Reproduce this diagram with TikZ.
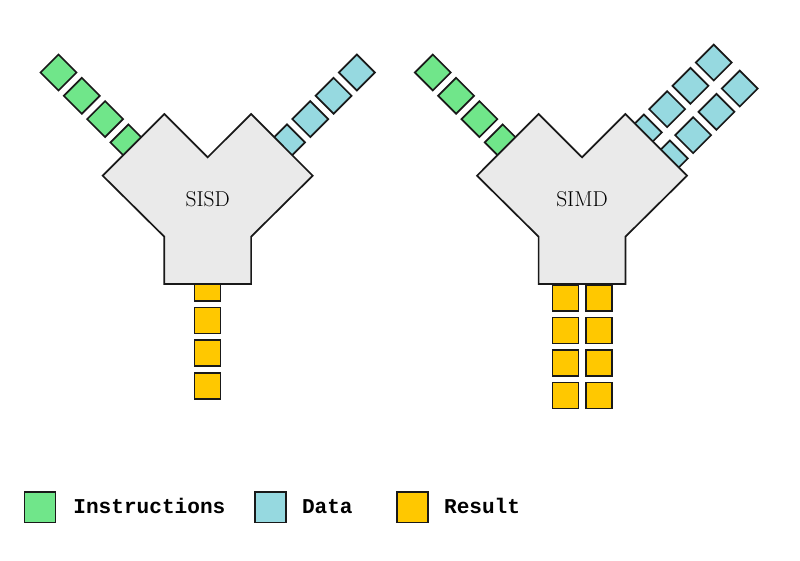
\documentclass[tikz,border=0pt]{standalone}
\usepackage{fontspec}
\newfontfamily\monob{Liberation Mono}
\definecolor{instr}{HTML}{70E68A}
\definecolor{datac}{HTML}{96D9E0}
\definecolor{resc}{HTML}{FFC800}
\definecolor{procc}{HTML}{EAEAEA}
\begin{document}
\begin{tikzpicture}[x=1pt,y=-1pt,
  sqbase/.style={draw=black!90, line width=1.7pt, rectangle, inner sep=0pt, minimum size=25.4pt},
  dsq/.style={sqbase, rotate=45},
  isq/.style={dsq, fill=instr},
  dsqb/.style={dsq, fill=datac},
  rsq/.style={sqbase, fill=resc, minimum size=26pt},
  proc/.style={draw=black!90, line width=1.7pt, fill=procc, line join=miter},
  lbl/.style={font=\fontsize{21.5}{26}\selectfont, anchor=base, inner sep=0pt},
  legtxt/.style={font=\monob\bfseries\fontsize{21.1}{25}\selectfont, anchor=base west, inner sep=0pt},
  legsq/.style={sqbase, minimum width=31pt, minimum height=30.6pt}]
\useasboundingbox (0,0) rectangle (800,560);
\fill[white] (0,0) rectangle (800,560);
% instruction squares
\foreach \cx/\nm in {207.7/sisd, 582/simd} {
  \foreach \k in {0,1,2,3} {
    \node[isq] (\nm I\k) at ({\cx-149.2+23.3*\k},{72.5+23.3*\k}) {};
  }
}
% data squares
\foreach \k in {0,1,2,3} {
  \node[dsqb] (sisdD\k) at ({207.7+149.2-23.3*\k},{72.5+23.3*\k}) {};
  \node[dsqb] (simdDa\k) at ({582+131.75-23.3*\k},{62.55+23.3*\k}) {};
  \node[dsqb] (simdDb\k) at ({582+157.75-23.3*\k},{88.55+23.3*\k}) {};
}
% result squares
\foreach \k in {0,1,2,3} {
  \node[rsq] (sisdR\k) at (207.5,{287.9+32.7*\k}) {};
  \node[rsq] (simdRa\k) at (565.5,{297.8+32.6*\k}) {};
  \node[rsq] (simdRb\k) at (598.7,{297.8+32.6*\k}) {};
}
% processors
\foreach \cx in {207.7,582} {
  \draw[proc] ({\cx-43.4},114) -- (\cx,157.3) -- ({\cx+43.4},114) -- ({\cx+105},175.7)
    -- ({\cx+43.4},236.7) -- ({\cx+43.4},284) -- ({\cx-43.4},284) -- ({\cx-43.4},236.7)
    -- ({\cx-105},175.7) -- cycle;
}
\node[lbl] (sisd) at (207.7,206.7) {SISD};
\node[lbl] (simd) at (582,206.7) {SIMD};
% legend
\node[legsq, fill=instr] (lgI) at (40,507.2) {};
\node[legtxt] (ltI) at (73.2,513.5) {Instructions};
\node[legsq, fill=datac] (lgD) at (270.3,507.2) {};
\node[legtxt] (ltD) at (301.8,513.5) {Data};
\node[legsq, fill=resc] (lgR) at (412.2,507.2) {};
\node[legtxt] (ltR) at (443.9,513.5) {Result};
\end{tikzpicture}
\end{document}
